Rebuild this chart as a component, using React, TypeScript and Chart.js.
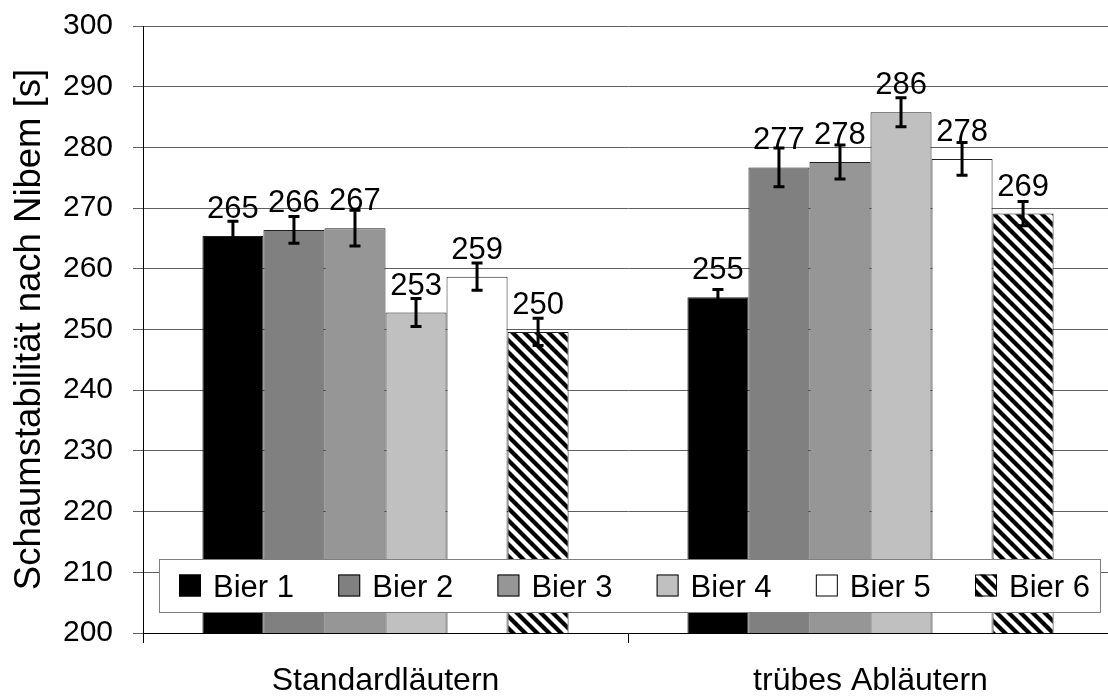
import React, { useEffect, useRef } from "react";
import { Chart, registerables } from "chart.js";

Chart.register(...registerables);

const categories = ["Standardläutern", "trübes Abläutern"];
const seriesNames = ["Bier 1", "Bier 2", "Bier 3", "Bier 4", "Bier 5", "Bier 6"];
const bier1 = [265.4, 255.3];
const bier2 = [266.4, 276.7];
const bier3 = [266.7, 277.6];
const bier4 = [252.8, 285.8];
const bier5 = [258.7, 278.1];
const bier6 = [249.6, 269.1];
const err1 = [2.45, 1.3];
const err2 = [2.2, 3.2];
const err3 = [2.95, 2.8];
const err4 = [2.3, 2.4];
const err5 = [2.25, 2.7];
const err6 = [2.25, 2.0];
const yMin = 200;
const yMax = 300;
const yStep = 10;
const yTitle = "Schaumstabilität nach Nibem [s]";

const seriesValues = [bier1, bier2, bier3, bier4, bier5, bier6];
const seriesErrors = [err1, err2, err3, err4, err5, err6];
const solidColors = ["#000000", "#808080", "#969696", "#c0c0c0", "#ffffff", null];

const FONT = "'Liberation Sans', Arial, sans-serif";

function makeHatch(): CanvasPattern | string {
  const c = document.createElement("canvas");
  c.width = 12;
  c.height = 12;
  const ctx = c.getContext("2d");
  if (!ctx) return "#888";
  ctx.fillStyle = "#ffffff";
  ctx.fillRect(0, 0, 12, 12);
  ctx.strokeStyle = "#000000";
  ctx.lineWidth = 4.2;
  for (const off of [-12, 0, 12]) {
    ctx.beginPath();
    ctx.moveTo(off - 2, -2);
    ctx.lineTo(off + 14, 14);
    ctx.stroke();
  }
  const p = ctx.createPattern(c, "repeat");
  return p || "#888";
}

export default function App() {
  const ref = useRef<HTMLCanvasElement | null>(null);

  useEffect(() => {
    if (!ref.current) return;
    const hatch = makeHatch();
    const fills = solidColors.map((c) => (c === null ? hatch : c));

    const errorAndLabels = {
      id: "errorAndLabels",
      afterDatasetsDraw(chart: any) {
        const ctx = chart.ctx;
        const ys = chart.scales.y;
        ctx.save();
        chart.data.datasets.forEach((ds: any, i: number) => {
          const meta = chart.getDatasetMeta(i);
          meta.data.forEach((el: any, j: number) => {
            const v = seriesValues[i][j];
            const e = seriesErrors[i][j];
            const x = el.x;
            const yt = ys.getPixelForValue(v + e);
            const yb = ys.getPixelForValue(v - e);
            ctx.strokeStyle = "#000";
            ctx.lineWidth = 3;
            ctx.beginPath();
            ctx.moveTo(x, yt);
            ctx.lineTo(x, yb);
            ctx.moveTo(x - 5.5, yt);
            ctx.lineTo(x + 5.5, yt);
            ctx.moveTo(x - 5.5, yb);
            ctx.lineTo(x + 5.5, yb);
            ctx.stroke();
            ctx.fillStyle = "#000";
            ctx.font = `31px ${FONT}`;
            ctx.textAlign = "center";
            ctx.textBaseline = "alphabetic";
            ctx.fillText(String(Math.round(v)), x, el.y - 18);
          });
        });
        ctx.restore();
      },
    };

    const boxLegend = {
      id: "boxLegend",
      afterDraw(chart: any) {
        const ctx = chart.ctx;
        const a = chart.chartArea;
        const left = a.left + 16;
        const right = a.right - 13;
        const top = a.bottom - 74;
        const bottom = a.bottom - 21;
        ctx.save();
        ctx.fillStyle = "#fff";
        ctx.fillRect(left, top, right - left, bottom - top);
        ctx.strokeStyle = "#808080";
        ctx.lineWidth = 1;
        ctx.strokeRect(left + 0.5, top + 0.5, right - left, bottom - top);
        ctx.font = `31px ${FONT}`;
        const widths = seriesNames.map((n) => ctx.measureText(n).width);
        const sw = 22;
        const gapIn = 12;
        const startX = left + 20;
        const endX = right - 10;
        const total = widths.reduce((s, w) => s + w + sw + gapIn, 0);
        const gap = (endX - startX - total) / (seriesNames.length - 1);
        const cy = (top + bottom) / 2;
        let x = startX;
        seriesNames.forEach((n, i) => {
          ctx.fillStyle = fills[i];
          ctx.fillRect(x, cy - sw / 2, sw, sw);
          ctx.strokeStyle = "#000";
          ctx.lineWidth = 1;
          ctx.strokeRect(x + 0.5, cy - sw / 2 + 0.5, sw - 1, sw - 1);
          ctx.fillStyle = "#000";
          ctx.textAlign = "left";
          ctx.textBaseline = "alphabetic";
          ctx.fillText(n, x + sw + gapIn, cy + 11);
          x += sw + gapIn + widths[i] + gap;
        });
        ctx.restore();
      },
    };

    const chart = new Chart(ref.current, {
      type: "bar",
      data: {
        labels: categories,
        datasets: seriesNames.map((n, i) => ({
          label: n,
          data: seriesValues[i],
          backgroundColor: fills[i] as any,
          borderColor: "#202020",
          borderWidth: 1,
          barPercentage: 1,
          categoryPercentage: 0.755,
        })),
      },
      options: {
        animation: false,
        responsive: true,
        maintainAspectRatio: false,
        layout: { padding: { top: 26, right: 3, left: 0, bottom: 0 } },
        plugins: {
          legend: { display: false },
          tooltip: { enabled: false },
        },
        scales: {
          x: {
            offset: true,
            grid: {
              drawOnChartArea: false,
              drawTicks: true,
              tickLength: 10,
              offset: true,
              color: "#000",
            },
            border: { color: "#000", width: 1 },
            ticks: {
              color: "#000",
              font: { family: FONT, size: 32 },
              padding: 19,
            },
            afterFit: (s: any) => {
              s.height = 67;
              s.paddingLeft = 0;
              s.paddingRight = 0;
            },
          },
          y: {
            min: yMin,
            max: yMax,
            grid: { color: "#606060", tickLength: 10, lineWidth: 1 },
            border: { color: "#000", width: 1 },
            ticks: {
              stepSize: yStep,
              color: "#000",
              font: { family: FONT, size: 30 },
              padding: 20,
            },
            title: {
              display: true,
              text: yTitle,
              color: "#000",
              font: { family: FONT, size: 36.5 },
              padding: { top: 8, bottom: 0 },
            },
            afterFit: (s: any) => {
              s.width = 143;
              s.paddingTop = 0;
              s.paddingBottom = 0;
            },
          },
        },
      },
      plugins: [errorAndLabels, boxLegend],
    });
    return () => chart.destroy();
  }, []);

  return (
    <div
      style={{
        position: "fixed",
        left: 0,
        top: 0,
        width: 1108,
        height: 700,
        overflow: "hidden",
        background: "#fff",
      }}
    >
      <div style={{ position: "relative", width: 1116, height: 700 }}>
        <canvas ref={ref} />
      </div>
    </div>
  );
}
